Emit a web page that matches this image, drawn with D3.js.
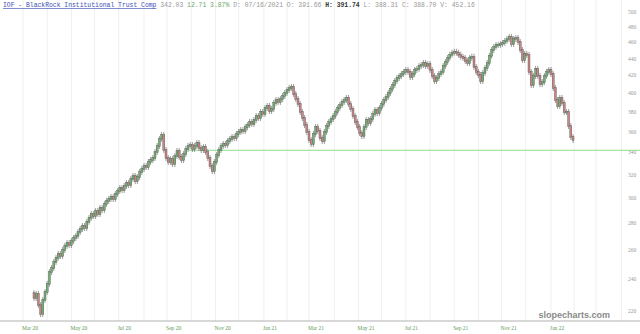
<!DOCTYPE html>
<html>
<head>
<meta charset="utf-8">
<script src="https://cdn.jsdelivr.net/npm/d3@7"></script>
<style>
  html, body { margin: 0; padding: 0; background: #fff; }
  svg { display: block; }
</style>
</head>
<body>
<svg id="chart" width="640" height="334"></svg>
<script>
// header text
var symbol = 'IOF'
var title = 'BlackRock Institutional Trust Comp'
var quote = ['342.03', '12.71', '3.87%', 'D: 07/16/2021', 'O: 391.66']
var quoteBold = 'H: 391.74'
var quoteTail = ['L: 388.31', 'C: 388.70', 'V: 452.16']

// price levels
var yTicks = [220, 240, 260, 280, 300, 320, 340, 360, 380, 400, 420, 440, 460, 480, 500]
var levelLine = 342.03

// every second weekday from Mar 16 2020, close values
var firstOpen = 231
var closes = [
  228.0, 230.6, 223.6, 218.2, 226.8, 231.8, 237.0, 244.8, 247.6, 251.7,
  254.5, 257.3, 255.9, 260.1, 263.0, 265.1, 263.7, 266.6, 268.8, 270.3,
  273.3, 275.6, 277.8, 276.3, 281.0, 284.1, 287.2, 285.6, 289.5, 287.2,
  292.0, 290.3, 295.2, 297.6, 299.2, 300.9, 299.2, 303.4, 305.9, 308.4,
  306.7, 310.1, 312.6, 310.9, 316.1, 318.7, 314.3, 317.8, 322.2, 324.9,
  327.6, 326.7, 331.2, 333.0, 334.8, 340.4, 346.1, 352.8, 356.7, 342.3,
  334.8, 331.2, 333.9, 329.4, 336.7, 341.4, 335.8, 333.0, 338.5, 343.2,
  346.1, 347.0, 343.2, 346.1, 348.9, 344.2, 342.3, 345.1, 340.4, 334.8,
  327.6, 323.1, 331.2, 337.6, 342.3, 346.1, 348.0, 347.0, 350.8, 352.8,
  354.7, 353.7, 357.7, 359.7, 361.6, 360.6, 364.6, 366.6, 369.7, 367.6,
  371.7, 375.8, 373.7, 379.9, 377.9, 384.1, 386.3, 381.0, 383.1, 389.5,
  392.7, 390.6, 393.8, 397.0, 400.3, 403.6, 405.8, 407.0, 399.2, 393.8,
  388.4, 379.9, 373.7, 366.6, 359.7, 351.8, 348.0, 357.7, 364.6, 360.6,
  353.7, 350.8, 359.7, 365.6, 369.7, 372.7, 375.8, 379.9, 384.1, 387.3,
  390.6, 392.7, 394.9, 388.4, 383.1, 375.8, 369.7, 364.6, 358.6, 355.7,
  364.6, 371.7, 368.7, 372.7, 377.9, 382.0, 378.9, 384.1, 388.4, 392.7,
  396.0, 400.3, 404.7, 409.2, 413.7, 417.1, 419.4, 421.7, 424.1, 426.4,
  424.1, 418.2, 421.7, 426.4, 427.6, 431.1, 432.3, 434.7, 431.1, 433.5,
  426.4, 419.4, 413.7, 417.1, 421.7, 424.1, 431.1, 435.9, 440.7, 444.7,
  447.1, 448.3, 447.1, 444.7, 442.2, 440.7, 437.1, 434.7, 440.7, 442.2,
  429.9, 424.1, 420.6, 413.7, 422.9, 428.7, 434.7, 443.4, 450.5, 454.3,
  456.8, 456.8, 458.0, 459.3, 461.8, 464.3, 466.8, 458.0, 464.3, 465.6,
  460.5, 450.5, 438.3, 445.6, 444.4, 424.1, 409.2, 419.4, 427.6, 419.4,
  410.3, 412.5, 419.4, 424.1, 426.4, 421.7, 405.8, 392.7, 386.3, 394.9,
  389.5, 379.9, 379.9, 365.6, 354.7, 351.8
]

var svg = d3.select('#chart')
var W = 640, H = 334
var plotRight = 624, axisY = 321

// weekdays from Mar 2 2020
var start = new Date(2020, 2, 2)
var days = []
for (var d = new Date(start); days.length < 560; d.setDate(d.getDate() + 1)) {
  if (d.getDay() != 0 && d.getDay() != 6) days.push(new Date(d))
}

var x = d3.scaleLinear().domain([0, 480]).range([23, 551])
var y = d3.scaleLog().domain([220, 500]).range([311, 12])

var bars = closes.map(function(c, i) {
  var o = i == 0 ? firstOpen : closes[i - 1]
  return {idx: 10 + 2 * i, open: o, close: c}
})

// month gridlines
var months = []
days.forEach(function(dd, i) {
  if (i == 0 || dd.getMonth() != days[i - 1].getMonth()) months.push({idx: i, date: dd})
})
months = months.filter(function(m) { return x(m.idx) < plotRight })

svg.append('g').selectAll('line').data(months).enter().append('line')
  .attr('x1', function(m) { return x(m.idx) }).attr('x2', function(m) { return x(m.idx) })
  .attr('y1', 0).attr('y2', axisY)
  .attr('stroke', '#efefef').attr('stroke-width', 1)

// bottom axis
svg.append('line').attr('x1', 0).attr('x2', W).attr('y1', axisY).attr('y2', axisY)
  .attr('stroke', '#b0b0b0').attr('stroke-width', 1)

var fmt = d3.timeFormat('%b %y')
svg.append('g').selectAll('text')
  .data(months.filter(function(m) { return m.date.getMonth() % 2 == 0 && x(m.idx) < 560 }))
  .enter().append('text')
  .attr('x', function(m) { return x(m.idx) - 1 }).attr('y', 330)
  .attr('font-family', 'Liberation Serif').attr('font-size', 5.5)
  .attr('fill', '#5f9a55')
  .text(function(m) { return fmt(m.date) })

// y labels
svg.append('g').selectAll('text').data(yTicks).enter().append('text')
  .attr('x', 632).attr('y', function(v) { return y(v) + 2 })
  .attr('text-anchor', 'middle')
  .attr('font-family', 'Liberation Serif').attr('font-size', 5.5)
  .attr('fill', '#999')
  .text(function(v) { return v })

// level line
svg.append('line').attr('x1', 188).attr('x2', W)
  .attr('y1', y(levelLine)).attr('y2', y(levelLine))
  .attr('stroke', '#8fdc8f').attr('stroke-width', 1)

// candles
var bw = 2
var g = svg.append('g')
g.selectAll('line.wick').data(bars).enter().append('line').attr('class', 'wick')
  .attr('x1', function(b) { return x(b.idx) }).attr('x2', function(b) { return x(b.idx) })
  .attr('y1', function(b) { return y(Math.max(b.open, b.close)) - 3 })
  .attr('y2', function(b) { return y(Math.min(b.open, b.close)) + 3 })
  .attr('stroke', '#555').attr('stroke-width', 0.6)

g.selectAll('rect').data(bars).enter().append('rect')
  .attr('x', function(b) { return x(b.idx) - bw / 2 })
  .attr('width', bw)
  .attr('y', function(b) { return y(Math.max(b.open, b.close)) - 0.5 })
  .attr('height', function(b) { return Math.max(1.5, Math.abs(y(b.open) - y(b.close)) + 1) })
  .attr('fill', function(b) { return b.close >= b.open ? '#72ad72' : '#c98585' })
  .attr('stroke', '#555').attr('stroke-width', 0.4)

// header
var head = svg.append('text').attr('x', 3).attr('y', 7)
  .attr('font-family', 'Liberation Mono').attr('font-size', 6.4)
head.append('tspan').attr('fill', '#3a4fb5').attr('text-decoration', 'underline')
  .text(symbol + ' - ' + title)
head.append('tspan').attr('fill', '#999').text(' ' + quote[0])
head.append('tspan').attr('fill', '#6aa86a').text(' ' + quote[1] + ' ' + quote[2])
head.append('tspan').attr('fill', '#999').text(' ' + quote[3] + ' ' + quote[4] + ' ')
head.append('tspan').attr('fill', '#333').attr('font-weight', 'bold').text(quoteBold)
head.append('tspan').attr('fill', '#999').text(' ' + quoteTail.join(' '))

// watermark
svg.append('text').attr('x', 610).attr('y', 318).attr('text-anchor', 'end')
  .attr('font-family', 'Liberation Sans').attr('font-size', 9).attr('font-weight', 'bold')
  .attr('fill', '#8a8a8a').text('slopecharts.com')
</script>
</body>
</html>
